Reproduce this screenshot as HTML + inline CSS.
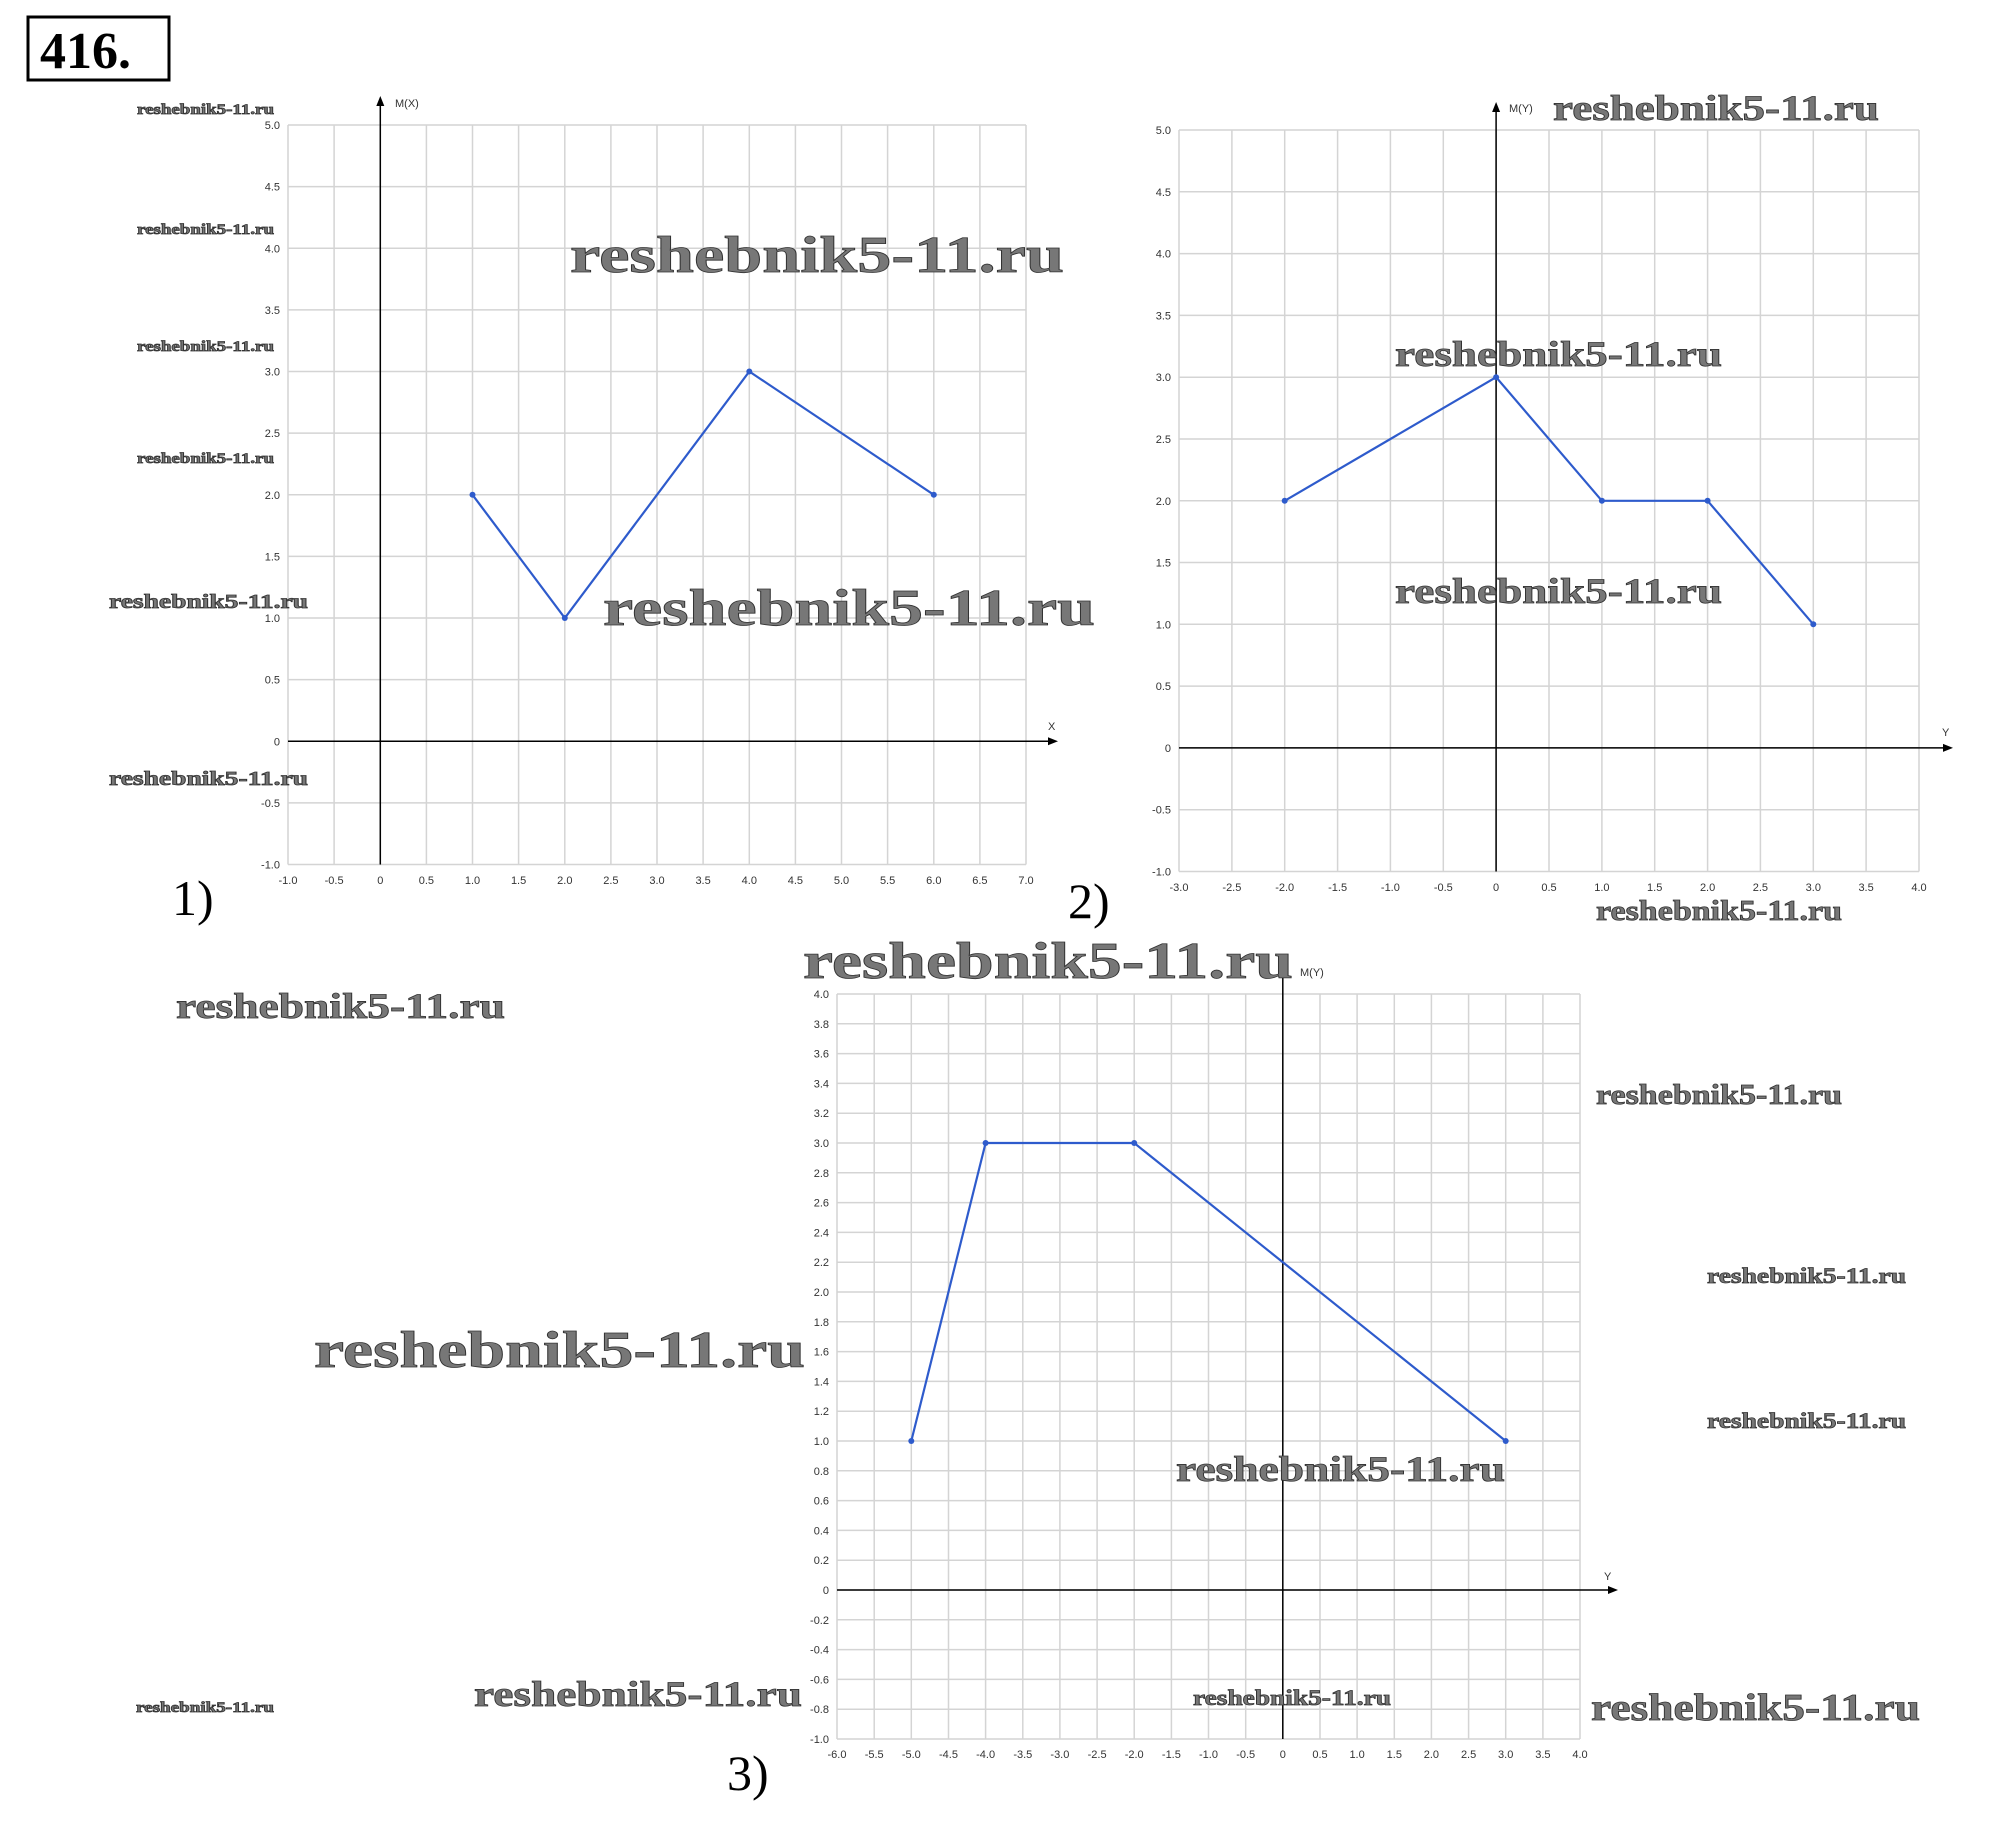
<!DOCTYPE html>
<html><head><meta charset="utf-8"><style>
html,body{margin:0;padding:0;background:#fff}
svg{display:block}
.g{stroke:#d4d4d4;stroke-width:1.5;fill:none}
.ax{stroke:#000;stroke-width:1.5;fill:none}
.d{stroke:#2e5bcc;stroke-width:2.2;fill:none}
.t{font-family:"Liberation Sans",sans-serif;font-size:11px;fill:#333}
.w{font-family:"Liberation Serif",serif;font-weight:bold;fill:#777;stroke:#333;stroke-width:0.8}
.n{font-family:"Liberation Serif",serif;fill:#000}
</style></head><body>
<svg width="2006" height="1848" viewBox="0 0 2006 1848" xmlns="http://www.w3.org/2000/svg">
<rect width="2006" height="1848" fill="#fff"/>
<!-- 416 box -->
<rect x="28" y="17" width="141" height="63" fill="none" stroke="#000" stroke-width="3"/>
<text x="40" y="68" class="n" font-size="52" font-weight="bold">416.</text>

<!-- CHART 1 -->
<path class="g" d="M288 125V864.5M334.1 125V864.5M380.3 125V864.5M426.4 125V864.5M472.5 125V864.5M518.6 125V864.5M564.8 125V864.5M610.9 125V864.5M657 125V864.5M703.1 125V864.5M749.3 125V864.5M795.4 125V864.5M841.5 125V864.5M887.6 125V864.5M933.8 125V864.5M979.9 125V864.5M1026 125V864.5
M288 125H1026M288 186.6H1026M288 248.3H1026M288 309.9H1026M288 371.5H1026M288 433.1H1026M288 494.8H1026M288 556.4H1026M288 618H1026M288 679.6H1026M288 741.3H1026M288 802.9H1026M288 864.5H1026"/>
<path class="ax" d="M380.3 864.5V100M288 741.3H1050"/>
<path d="M380.3 96l-4 10h8z M1058 741.3l-10 -4v8z" fill="#000"/>
<text x="395" y="107" class="t">M(X)</text>
<text x="1048" y="730" class="t">X</text>
<g class="t" text-anchor="end">
<text x="280" y="129">5.0</text><text x="280" y="190.6">4.5</text><text x="280" y="252.3">4.0</text><text x="280" y="313.9">3.5</text><text x="280" y="375.5">3.0</text><text x="280" y="437.1">2.5</text><text x="280" y="498.8">2.0</text><text x="280" y="560.4">1.5</text><text x="280" y="622">1.0</text><text x="280" y="683.6">0.5</text><text x="280" y="745.3">0</text><text x="280" y="806.9">-0.5</text><text x="280" y="868.5">-1.0</text>
</g>
<g class="t" text-anchor="middle">
<text x="288" y="884">-1.0</text><text x="334.1" y="884">-0.5</text><text x="380.3" y="884">0</text><text x="426.4" y="884">0.5</text><text x="472.5" y="884">1.0</text><text x="518.6" y="884">1.5</text><text x="564.8" y="884">2.0</text><text x="610.9" y="884">2.5</text><text x="657" y="884">3.0</text><text x="703.1" y="884">3.5</text><text x="749.3" y="884">4.0</text><text x="795.4" y="884">4.5</text><text x="841.5" y="884">5.0</text><text x="887.6" y="884">5.5</text><text x="933.8" y="884">6.0</text><text x="979.9" y="884">6.5</text><text x="1026" y="884">7.0</text>
</g>
<polyline class="d" points="472.5,494.8 564.8,618 749.3,371.5 933.8,494.8"/>
<g fill="#2e5bcc"><circle cx="472.5" cy="494.8" r="3"/><circle cx="564.8" cy="618" r="3"/><circle cx="749.3" cy="371.5" r="3"/><circle cx="933.8" cy="494.8" r="3"/></g>
<text x="172" y="915" class="n" font-size="50">1)</text>

<!-- CHART 2 -->
<path class="g" d="M1179 130V871.5M1231.9 130V871.5M1284.7 130V871.5M1337.6 130V871.5M1390.4 130V871.5M1443.3 130V871.5M1496.1 130V871.5M1549 130V871.5M1601.9 130V871.5M1654.7 130V871.5M1707.6 130V871.5M1760.4 130V871.5M1813.3 130V871.5M1866.1 130V871.5M1919 130V871.5
M1179 130H1919M1179 191.8H1919M1179 253.6H1919M1179 315.4H1919M1179 377.2H1919M1179 439H1919M1179 500.8H1919M1179 562.5H1919M1179 624.3H1919M1179 686.1H1919M1179 747.9H1919M1179 809.7H1919M1179 871.5H1919"/>
<path class="ax" d="M1496.1 871.5V106M1179 747.9H1945"/>
<path d="M1496.1 102l-4 10h8z M1953 747.9l-10 -4v8z" fill="#000"/>
<text x="1509" y="112" class="t">M(Y)</text>
<text x="1942" y="736" class="t">Y</text>
<g class="t" text-anchor="end">
<text x="1171" y="134">5.0</text><text x="1171" y="195.8">4.5</text><text x="1171" y="257.6">4.0</text><text x="1171" y="319.4">3.5</text><text x="1171" y="381.2">3.0</text><text x="1171" y="443">2.5</text><text x="1171" y="504.8">2.0</text><text x="1171" y="566.5">1.5</text><text x="1171" y="628.3">1.0</text><text x="1171" y="690.1">0.5</text><text x="1171" y="751.9">0</text><text x="1171" y="813.7">-0.5</text><text x="1171" y="875.5">-1.0</text>
</g>
<g class="t" text-anchor="middle">
<text x="1179" y="891">-3.0</text><text x="1231.9" y="891">-2.5</text><text x="1284.7" y="891">-2.0</text><text x="1337.6" y="891">-1.5</text><text x="1390.4" y="891">-1.0</text><text x="1443.3" y="891">-0.5</text><text x="1496.1" y="891">0</text><text x="1549" y="891">0.5</text><text x="1601.9" y="891">1.0</text><text x="1654.7" y="891">1.5</text><text x="1707.6" y="891">2.0</text><text x="1760.4" y="891">2.5</text><text x="1813.3" y="891">3.0</text><text x="1866.1" y="891">3.5</text><text x="1919" y="891">4.0</text>
</g>
<polyline class="d" points="1284.7,500.8 1496.1,377.2 1601.9,500.8 1707.6,500.8 1813.3,624.3"/>
<g fill="#2e5bcc"><circle cx="1284.7" cy="500.8" r="3"/><circle cx="1496.1" cy="377.2" r="3"/><circle cx="1601.9" cy="500.8" r="3"/><circle cx="1707.6" cy="500.8" r="3"/><circle cx="1813.3" cy="624.3" r="3"/></g>
<text x="1068" y="918" class="n" font-size="50">2)</text>

<!-- CHART 3 -->
<path class="g" d="M837 994V1739M874.2 994V1739M911.3 994V1739M948.5 994V1739M985.6 994V1739M1022.8 994V1739M1059.9 994V1739M1097.1 994V1739M1134.2 994V1739M1171.4 994V1739M1208.5 994V1739M1245.7 994V1739M1282.8 994V1739M1320 994V1739M1357.1 994V1739M1394.3 994V1739M1431.4 994V1739M1468.6 994V1739M1505.7 994V1739M1542.9 994V1739M1580 994V1739
M837 994H1580M837 1023.8H1580M837 1053.6H1580M837 1083.4H1580M837 1113.2H1580M837 1143H1580M837 1172.8H1580M837 1202.6H1580M837 1232.4H1580M837 1262.2H1580M837 1292H1580M837 1321.8H1580M837 1351.6H1580M837 1381.4H1580M837 1411.2H1580M837 1441H1580M837 1470.8H1580M837 1500.6H1580M837 1530.4H1580M837 1560.2H1580M837 1590H1580M837 1619.8H1580M837 1649.6H1580M837 1679.4H1580M837 1709.2H1580M837 1739H1580"/>
<path class="ax" d="M1282.8 1739V976M837 1590H1610"/>
<path d="M1618 1590l-10 -4v8z" fill="#000"/>
<text x="1300" y="976" class="t" font-size="10">M(Y)</text>
<text x="1604" y="1580" class="t">Y</text>
<g class="t" text-anchor="end">
<text x="829" y="998">4.0</text><text x="829" y="1027.8">3.8</text><text x="829" y="1057.6">3.6</text><text x="829" y="1087.4">3.4</text><text x="829" y="1117.2">3.2</text><text x="829" y="1147">3.0</text><text x="829" y="1176.8">2.8</text><text x="829" y="1206.6">2.6</text><text x="829" y="1236.4">2.4</text><text x="829" y="1266.2">2.2</text><text x="829" y="1296">2.0</text><text x="829" y="1325.8">1.8</text><text x="829" y="1355.6">1.6</text><text x="829" y="1385.4">1.4</text><text x="829" y="1415.2">1.2</text><text x="829" y="1445">1.0</text><text x="829" y="1474.8">0.8</text><text x="829" y="1504.6">0.6</text><text x="829" y="1534.4">0.4</text><text x="829" y="1564.2">0.2</text><text x="829" y="1594">0</text><text x="829" y="1623.8">-0.2</text><text x="829" y="1653.6">-0.4</text><text x="829" y="1683.4">-0.6</text><text x="829" y="1713.2">-0.8</text><text x="829" y="1743">-1.0</text>
</g>
<g class="t" text-anchor="middle">
<text x="837" y="1758">-6.0</text><text x="874.2" y="1758">-5.5</text><text x="911.3" y="1758">-5.0</text><text x="948.5" y="1758">-4.5</text><text x="985.6" y="1758">-4.0</text><text x="1022.8" y="1758">-3.5</text><text x="1059.9" y="1758">-3.0</text><text x="1097.1" y="1758">-2.5</text><text x="1134.2" y="1758">-2.0</text><text x="1171.4" y="1758">-1.5</text><text x="1208.5" y="1758">-1.0</text><text x="1245.7" y="1758">-0.5</text><text x="1282.8" y="1758">0</text><text x="1320" y="1758">0.5</text><text x="1357.1" y="1758">1.0</text><text x="1394.3" y="1758">1.5</text><text x="1431.4" y="1758">2.0</text><text x="1468.6" y="1758">2.5</text><text x="1505.7" y="1758">3.0</text><text x="1542.9" y="1758">3.5</text><text x="1580" y="1758">4.0</text>
</g>
<polyline class="d" points="911.3,1441 985.6,1143 1134.2,1143 1505.7,1441"/>
<g fill="#2e5bcc"><circle cx="911.3" cy="1441" r="3"/><circle cx="985.6" cy="1143" r="3"/><circle cx="1134.2" cy="1143" r="3"/><circle cx="1505.7" cy="1441" r="3"/></g>
<text x="727" y="1790" class="n" font-size="50">3)</text>

<!-- watermarks -->
<g class="w">
<text x="137" y="114" font-size="15" textLength="137" lengthAdjust="spacingAndGlyphs">reshebnik5-11.ru</text>
<text x="137" y="234" font-size="15" textLength="137" lengthAdjust="spacingAndGlyphs">reshebnik5-11.ru</text>
<text x="137" y="351" font-size="15" textLength="137" lengthAdjust="spacingAndGlyphs">reshebnik5-11.ru</text>
<text x="137" y="463" font-size="15" textLength="137" lengthAdjust="spacingAndGlyphs">reshebnik5-11.ru</text>
<text x="109" y="608" font-size="20" textLength="199" lengthAdjust="spacingAndGlyphs">reshebnik5-11.ru</text>
<text x="109" y="785" font-size="20" textLength="199" lengthAdjust="spacingAndGlyphs">reshebnik5-11.ru</text>
<text x="570" y="272" font-size="52" textLength="494" lengthAdjust="spacingAndGlyphs">reshebnik5-11.ru</text>
<text x="603" y="625" font-size="52" textLength="492" lengthAdjust="spacingAndGlyphs">reshebnik5-11.ru</text>
<text x="1553" y="120" font-size="36" textLength="326" lengthAdjust="spacingAndGlyphs">reshebnik5-11.ru</text>
<text x="1395" y="366" font-size="36" textLength="327" lengthAdjust="spacingAndGlyphs">reshebnik5-11.ru</text>
<text x="1395" y="603" font-size="36" textLength="327" lengthAdjust="spacingAndGlyphs">reshebnik5-11.ru</text>
<text x="1596" y="920" font-size="28" textLength="246" lengthAdjust="spacingAndGlyphs">reshebnik5-11.ru</text>
<text x="803" y="978" font-size="52" textLength="490" lengthAdjust="spacingAndGlyphs">reshebnik5-11.ru</text>
<text x="176" y="1018" font-size="36" textLength="329" lengthAdjust="spacingAndGlyphs">reshebnik5-11.ru</text>
<text x="1596" y="1104" font-size="28" textLength="246" lengthAdjust="spacingAndGlyphs">reshebnik5-11.ru</text>
<text x="1707" y="1283" font-size="22" textLength="199" lengthAdjust="spacingAndGlyphs">reshebnik5-11.ru</text>
<text x="1707" y="1428" font-size="22" textLength="199" lengthAdjust="spacingAndGlyphs">reshebnik5-11.ru</text>
<text x="314" y="1367" font-size="52" textLength="491" lengthAdjust="spacingAndGlyphs">reshebnik5-11.ru</text>
<text x="1176" y="1481" font-size="36" textLength="329" lengthAdjust="spacingAndGlyphs">reshebnik5-11.ru</text>
<text x="474" y="1706" font-size="36" textLength="328" lengthAdjust="spacingAndGlyphs">reshebnik5-11.ru</text>
<text x="136" y="1712" font-size="15" textLength="138" lengthAdjust="spacingAndGlyphs">reshebnik5-11.ru</text>
<text x="1193" y="1705" font-size="22" textLength="198" lengthAdjust="spacingAndGlyphs">reshebnik5-11.ru</text>
<text x="1591" y="1720" font-size="38" textLength="329" lengthAdjust="spacingAndGlyphs">reshebnik5-11.ru</text>
</g>
</svg>
</body></html>
